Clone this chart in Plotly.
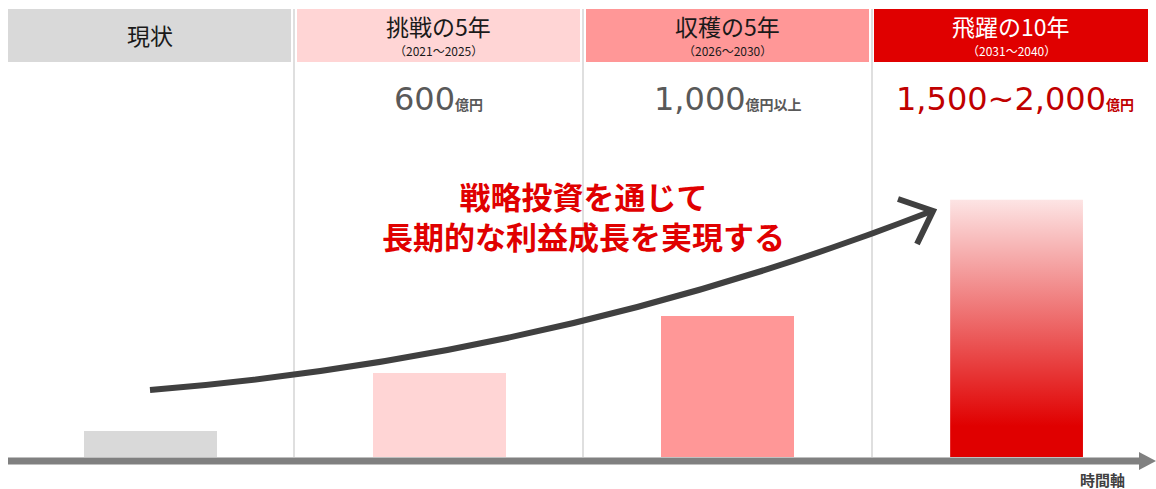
import plotly.graph_objects as go

# ---- data ----
categories = ["現状", "挑戦の5年", "収穫の5年", "飛躍の10年"]
periods = ["", "（2021～2025）", "（2026～2030）", "（2031～2040）"]
value_labels = ["", "600", "1,000", "1,500~2,000"]
value_units = ["", "億円", "億円以上", "億円"]
bar_values = [185, 600, 1000, 1830]
message = ["戦略投資を通じて", "長期的な利益成長を実現する"]
axis_label = "時間軸"

# ---- styles ----
W, H = 1156, 489
FONT = "Noto Sans CJK JP"
NUMFONT = "DejaVu Sans, Noto Sans CJK JP"
header_colors = ["#d9d9d9", "#ffd5d5", "#ff9797", "#e00000"]
header_text_colors = ["#1a1a1a", "#1a1a1a", "#1a1a1a", "#ffffff"]
value_colors = ["#595959", "#595959", "#595959", "#c00000"]
bar_width = 0.46


def px(x):
    return x / W


def py(y):
    return 1 - y / H


fig = go.Figure()

# regular bars
fig.add_trace(go.Bar(
    x=list(range(3)), y=bar_values[:3], width=bar_width,
    marker=dict(color=header_colors[:3], line=dict(width=0)),
    hoverinfo="skip"))

# gradient bar (last category)
i = 3
v = bar_values[i]
fig.add_trace(go.Scatter(
    x=[i - bar_width / 2, i + bar_width / 2, i + bar_width / 2, i - bar_width / 2, i - bar_width / 2],
    y=[0, 0, v, v, 0], mode="none", fill="toself",
    fillgradient=dict(type="vertical",
                      colorscale=[[0, "#e00000"], [0.12, "#e00000"], [1, "#fde4e4"]]),
    hoverinfo="skip"))

shapes = []
annotations = []

# header boxes
header_x = [(8, 291), (297, 580), (586, 869), (874, 1148)]
for (x0, x1), c in zip(header_x, header_colors):
    shapes.append(dict(type="rect", xref="paper", yref="paper",
                       x0=px(x0), x1=px(x1), y0=py(62), y1=py(9),
                       fillcolor=c, line=dict(width=0), layer="below"))

# separators
for sx in [294, 583, 872]:
    shapes.append(dict(type="line", xref="paper", yref="paper",
                       x0=px(sx), x1=px(sx), y0=py(9), y1=py(457),
                       line=dict(color="#d4d4d4", width=1.5), layer="below"))

# time axis arrow
shapes.append(dict(type="line", xref="paper", yref="paper",
                   x0=px(8), x1=px(1142), y0=py(461), y1=py(461),
                   line=dict(color="#808080", width=7)))
shapes.append(dict(type="path", xref="paper", yref="paper",
                   path=f"M {px(1139)},{py(452)} L {px(1156)},{py(461)} L {px(1139)},{py(470)} Z",
                   fillcolor="#808080", line=dict(width=0)))

# growth curve arrow
shapes.append(dict(type="path", xref="paper", yref="paper",
                   path=f"M {px(150)},{py(390)} Q {px(557)},{py(357)} {px(932)},{py(211)}",
                   line=dict(color="#404040", width=6)))
shapes.append(dict(type="path", xref="paper", yref="paper",
                   path=f"M {px(898)},{py(199)} L {px(933)},{py(211)} L {px(917)},{py(244)}",
                   line=dict(color="#404040", width=6)))

# header texts
centers = [149.5, 438.5, 727.5, 1011]
for k, cat in enumerate(categories):
    if periods[k]:
        annotations.append(dict(xref="paper", yref="paper", x=px(centers[k]), y=py(26.5),
                                text=cat, showarrow=False, xanchor="center", yanchor="middle",
                                font=dict(family=FONT, size=23, color=header_text_colors[k])))
        annotations.append(dict(xref="paper", yref="paper", x=px(centers[k]), y=py(51),
                                text=periods[k], showarrow=False, xanchor="center", yanchor="middle",
                                font=dict(family=FONT, size=12, color=header_text_colors[k])))
    else:
        annotations.append(dict(xref="paper", yref="paper", x=px(centers[k]), y=py(35),
                                text=cat, showarrow=False, xanchor="center", yanchor="middle",
                                font=dict(family=FONT, size=23, color=header_text_colors[k])))
    if value_labels[k]:
        annotations.append(dict(xref="paper", yref="paper", x=px(centers[k] + (4 if k == 3 else 0)), y=py(99),
                                text=f"{value_labels[k]}<span style='font-size:14px'><b>{value_units[k]}</b></span>",
                                showarrow=False, xanchor="center", yanchor="middle",
                                font=dict(family=NUMFONT, size=32, color=value_colors[k])))

# message (two lines)
annotations.append(dict(xref="paper", yref="paper", x=px(583), y=py(215),
                        text="<br>".join(f"<b>{line}</b>" for line in message),
                        showarrow=False, xanchor="center", yanchor="middle", align="center",
                        font=dict(family=FONT, size=31, color="#e00000")))

annotations.append(dict(xref="paper", yref="paper", x=px(1102), y=py(479),
                        text=f"<b>{axis_label}</b>", showarrow=False, xanchor="center", yanchor="middle",
                        font=dict(family=FONT, size=15, color="#404040")))

fig.update_layout(
    width=W, height=H, margin=dict(l=0, r=0, t=0, b=0),
    paper_bgcolor="white", plot_bgcolor="white", showlegend=False,
    xaxis=dict(range=[-0.5213, 3.483], visible=False, fixedrange=True),
    yaxis=dict(range=[-228, 3252], visible=False, fixedrange=True),
    shapes=shapes, annotations=annotations, bargap=0,
)

fig.write_html("out.html", config={"displayModeBar": False},
               post_script="document.body.style.margin='0';document.body.style.overflow='hidden';")
